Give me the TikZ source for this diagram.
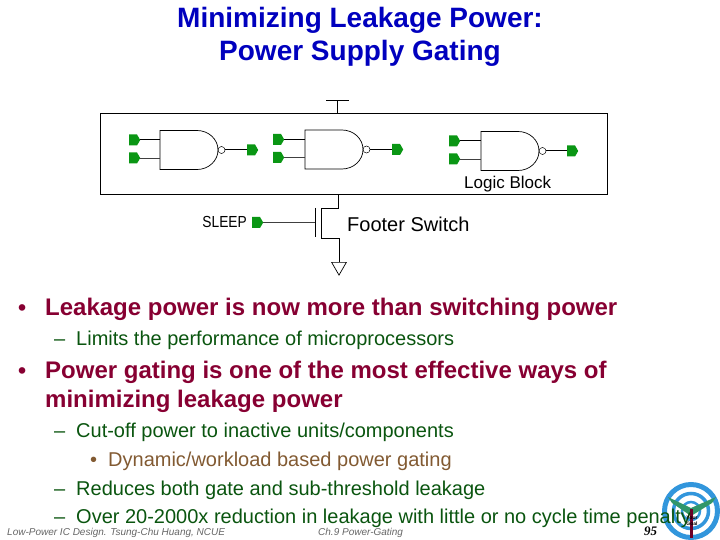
\documentclass[tikz,border=0pt]{standalone}
\usepackage{graphicx}
\usepackage{fontspec}
\setmainfont{Liberation Sans}
\newfontfamily\serifnum{Liberation Serif}
\usetikzlibrary{shapes.symbols, shapes.geometric}
\definecolor{titolo}{RGB}{0,0,190}
\definecolor{rosso}{RGB}{135,0,50}
\definecolor{verde}{RGB}{10,85,15}
\definecolor{bruno}{RGB}{130,90,50}
\definecolor{pad}{RGB}{10,150,20}
\definecolor{bersaglio}{RGB}{50,150,220}
\definecolor{foglia}{RGB}{50,150,105}
\newcommand{\testo}[2]{\fontsize{#1}{#2}\selectfont}
\tikzset{
  padnode/.style={signal, signal to=east, signal pointer angle=120, fill=pad, inner sep=0pt, minimum width=11pt, minimum height=11pt},
  bubblenode/.style={circle, draw, line width=0.5pt, inner sep=0pt, minimum size=7pt},
  gateline/.style={line width=0.7pt},
  wirethick/.style={line width=1pt},
  wirethin/.style={line width=0.5pt, black!75},
  bullet/.style={anchor=base west, inner sep=0pt, font=\testo{24}{28}\bfseries, text=rosso},
  subbullet/.style={anchor=base west, inner sep=0pt, font=\testo{20}{24}, text=verde},
  piede/.style={anchor=base west, inner sep=0pt, font=\testo{10}{12}\itshape, text=black!60}
}
\begin{document}
\begin{tikzpicture}[x=1pt, y=-1pt]
    \useasboundingbox (0,0) rectangle (720,540);
    % Titolo
    \node[font=\testo{28}{33}\bfseries, text=titolo, align=center, inner sep=0pt] (title) at (360,37) {Minimizing Leakage Power:\\Power Supply Gating};

    % Blocco logico
    \node[draw, line width=0.7pt, minimum width=507pt, minimum height=81pt, inner sep=0pt] (logicblock) at (353.5,154) {};
    \node[anchor=base west, inner sep=0pt, font=\testo{17}{20}] (logiclabel) at (464,189) {Logic Block};

    % Porte
    \foreach \name/\xg/\yg/\xp/\xo in {gatea/160/150/129/247, gateb/305/149.5/273/392, gatec/481/151/449/567}{
        \coordinate (\name west) at (\xg,\yg);
        \draw[gateline] (\xg,\yg-19.5) -- ++(37,0) arc (-90:90:21 and 19.5) -- (\xg,\yg+19.5) -- cycle;
        \node[bubblenode] (\name bub) at (\xg+61.5,\yg) {};
        \node[padnode, anchor=west] (\name ina) at (\xp,\yg-10) {};
        \node[padnode, anchor=west] (\name inb) at (\xp,\yg+8) {};
        \node[padnode, anchor=west] (\name out) at (\xo,\yg) {};
        \draw[wirethick] (\name ina.east) -- (\name ina.east -| \name west);
        \draw[wirethin] (\name inb.east) -- (\name inb.east -| \name west);
        \draw[wirethick] (\name bub.east) -- (\name out.west);
    }

    % Alimentazione
    \coordinate (vddbara) at (326,100.5);
    \coordinate (vddbarb) at (349,100.5);
    \coordinate (vddtap) at (337,100.5);
    \coordinate (vddend) at (337,113.5);
    \draw[line width=0.8pt] (vddbara) -- (vddbarb);
    \draw[line width=0.8pt] (vddtap) -- (vddend);

    % Interruttore
    \node[anchor=base west, inner sep=0pt, font=\testo{20}{24}] (footerlabel) at (347,231) {Footer Switch};
    \node[anchor=east, inner sep=0pt, font=\testo{16}{18}] (sleeplabel) at (247,222) {\scalebox{0.86}[1]{SLEEP}};
    \node[padnode, anchor=west] (sleeppad) at (252,222.5) {};
    \coordinate (gatetop) at (315,208);
    \coordinate (gatebot) at (315,237);
    \coordinate (gatemid) at (315,222.5);
    \coordinate (chtop) at (321,208);
    \coordinate (chbot) at (321,238);
    \coordinate (drain) at (338.5,208);
    \coordinate (draintop) at (338.5,194.5);
    \coordinate (source) at (339,238);
    \node[regular polygon, regular polygon sides=3, shape border rotate=180, draw, line width=0.7pt, inner sep=0pt, minimum size=17pt, anchor=north] (ground) at (339,262) {};
    \draw[line width=0.8pt] (gatetop) -- (gatebot);
    \draw[wirethin] (sleeppad.east) -- (gatemid);
    \draw[line width=0.8pt] (draintop) -- (drain) -- (chtop) -- (chbot) -- (source) -- (ground.north);

    % Bersaglio
    \foreach \rr/\ww in {26.5/5, 17.5/3.5, 9/2.5}{
        \draw[bersaglio, line width=\ww pt] (691,511) circle (\rr);
    }
    \fill[foglia] (668,497) -- (691,508) -- (716,497) -- (712,503) -- (691,516) -- (672,503) -- cycle;
    \draw[rosso!80!black, line width=3pt] (691,509) -- (691,538);

    % Testo
    \node[bullet, font=\testo{23}{25}\bfseries] at (18,315) {•};
    \node[bullet] (leaka) at (45,315) {Leakage power is now more than switching power};
    \node[subbullet] at (54,345) {–};
    \node[subbullet] (limits) at (76,345) {Limits the performance of microprocessors};
    \node[bullet, font=\testo{23}{25}\bfseries] at (18,378) {•};
    \node[bullet] (gatinga) at (45,378) {Power gating is one of the most effective ways of};
    \node[bullet] (gatingb) at (45,407) {minimizing leakage power};
    \node[subbullet] at (54,437) {–};
    \node[subbullet] (cutoff) at (76,437) {Cut-off power to inactive units/components};
    \node[subbullet, text=bruno] at (90,466) {•};
    \node[subbullet, text=bruno] (dynamic) at (108,466) {Dynamic/workload based power gating};
    \node[subbullet] at (54,495) {–};
    \node[subbullet] (reduces) at (76,495) {Reduces both gate and sub-threshold leakage};
    \node[subbullet] at (54,523) {–};
    \node[subbullet] (over) at (76,523) {Over 20-2000x reduction in leakage with little or no cycle time penalty};

    % Piede
    \node[piede] (footera) at (7,535) {Low-Power IC Design. Tsung-Chu Huang, NCUE};
    \node[piede] (footerb) at (318,535) {Ch.9 Power-Gating};
    \node[anchor=base west, inner sep=0pt, font=\testo{13}{14}\serifnum\bfseries\itshape] (pagenum) at (644,535) {95};
    \node[inner sep=0pt, font=\testo{5}{5.5}\bfseries, align=center] (logotext) at (692,521) {Your\\Goal};
\end{tikzpicture}
\end{document}
